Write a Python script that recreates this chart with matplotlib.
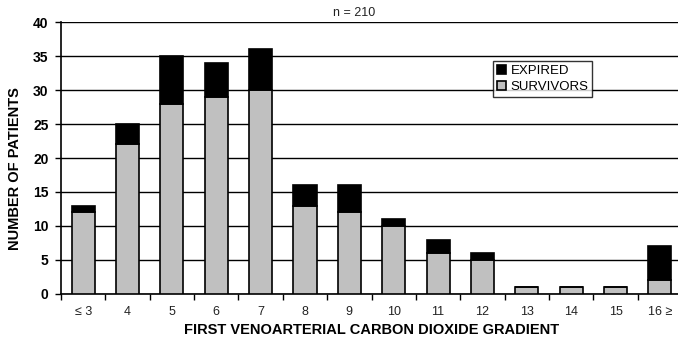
import matplotlib
matplotlib.use("Agg")
import matplotlib.pyplot as plt
import numpy as np

plt.rcParams['font.family'] = ['Liberation Sans', 'DejaVu Sans']

categories = ["≤ 3", "4", "5", "6", "7", "8", "9", "10", "11", "12", "13", "14", "15", "16 ≥"]
survivors = [12, 22, 28, 29, 30, 13, 12, 10, 6, 5, 1, 1, 1, 2]
expired = [1, 3, 7, 5, 6, 3, 4, 1, 2, 1, 0, 0, 0, 5]

fig = plt.figure(figsize=(6.78, 3.45), dpi=100)
ax = fig.add_axes([0.090, 0.148, 0.916, 0.788])

x = np.arange(len(categories))
w = 0.52
ax.set_axisbelow(True)
ax.yaxis.grid(True, color='black', linewidth=1.0)
b1 = ax.bar(x, survivors, w, color='#c0c0c0', edgecolor='black', linewidth=1.2, label='SURVIVORS', zorder=3)
b2 = ax.bar(x, expired, w, bottom=survivors, color='black', edgecolor='black', linewidth=1.2, label='EXPIRED', zorder=3)

ax.set_xlim(-0.5, len(categories) - 0.5)
ax.set_ylim(0, 40)
ax.set_yticks(range(0, 41, 5))
ax.set_yticklabels([str(v) for v in range(0, 41, 5)], fontsize=10, fontweight='bold')
ax.set_xticks(x)
ax.set_xticklabels(categories, fontsize=9, color='#222222')
ax.tick_params(axis='x', which='major', length=0, pad=9)
ax.set_xticks(np.arange(-0.5, len(categories), 1.0), minor=True)
ax.tick_params(axis='x', which='minor', length=4, width=1, direction='out')
ax.tick_params(axis='y', length=4, width=1, direction='out', pad=5)

for s in ['top', 'right']:
    ax.spines[s].set_visible(False)
ax.spines['left'].set_linewidth(1.2)
ax.spines['bottom'].set_linewidth(1.2)

ax.set_xlabel("FIRST VENOARTERIAL CARBON DIOXIDE GRADIENT", fontsize=10.5, fontweight='bold', labelpad=3)
ax.set_ylabel("NUMBER OF PATIENTS", fontsize=10.5, fontweight='bold')
ax.yaxis.set_label_coords(-0.063, 0.46)
fig.text(0.523, 0.962, "n = 210", fontsize=9, ha='center', va='center', color='#222222')

leg = ax.legend(handles=[b2, b1], loc='upper left', bbox_to_anchor=(0.696, 0.857),
                fontsize=9.5, frameon=True, fancybox=False, edgecolor='black',
                handlelength=0.7, handleheight=0.7, handletextpad=0.3, borderpad=0.3,
                labelspacing=0.3, borderaxespad=0)
leg.get_frame().set_linewidth(1.0)

fig.savefig("out.png", dpi=100)
